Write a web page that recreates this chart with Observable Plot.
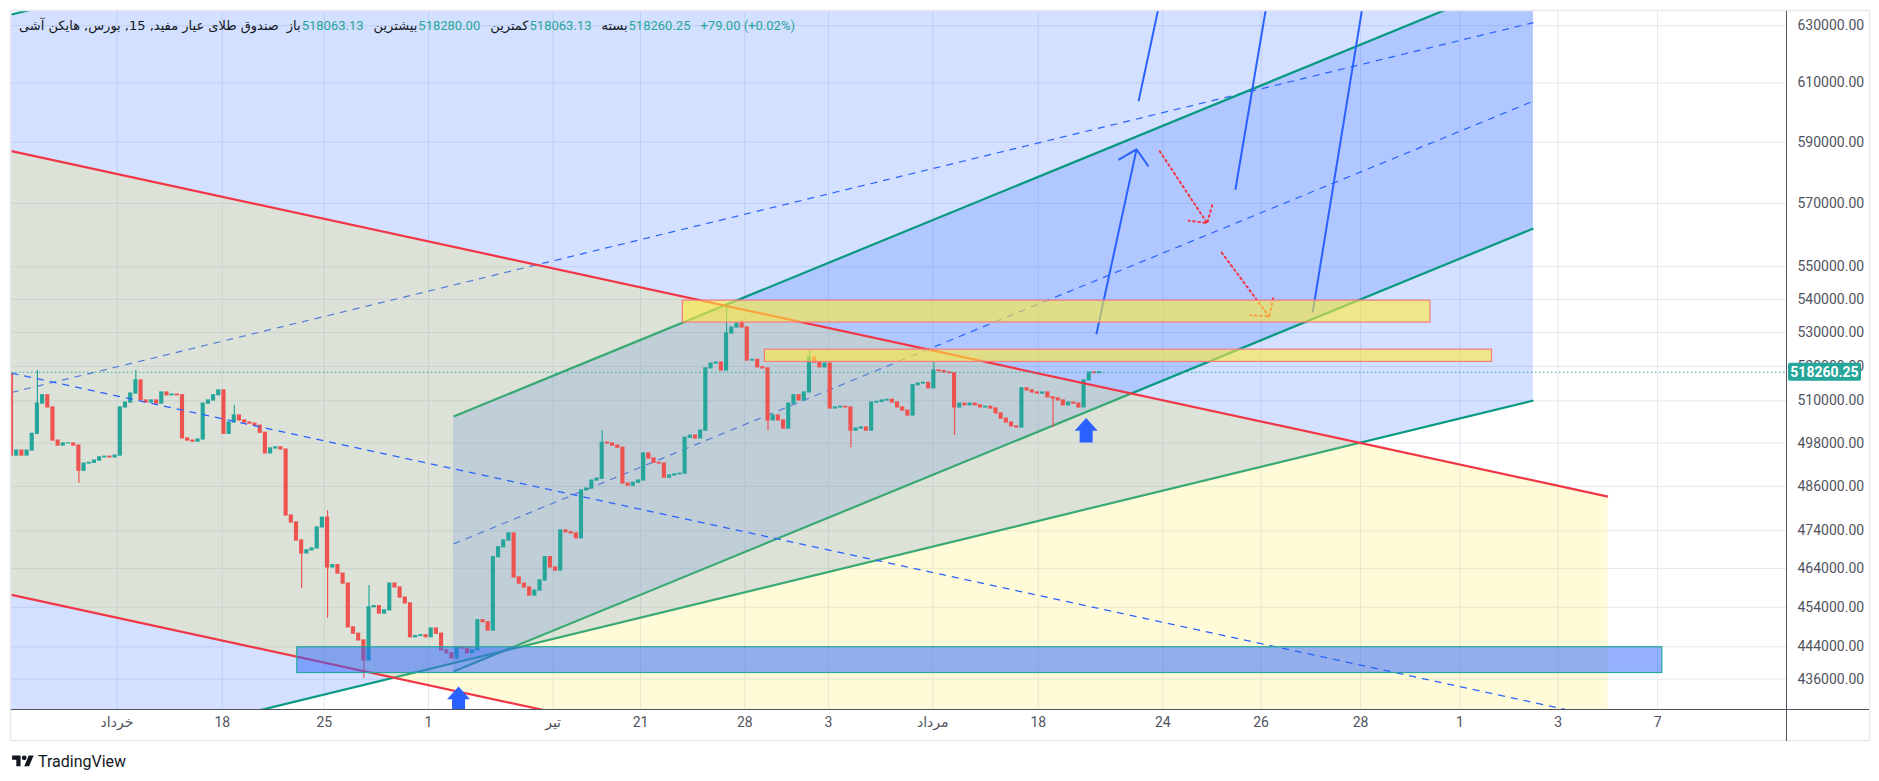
<!DOCTYPE html>
<html><head><meta charset="utf-8">
<script src="https://cdn.jsdelivr.net/npm/d3@7"></script>
<script src="https://cdn.jsdelivr.net/npm/@observablehq/plot@0.6"></script>
<style>
body{margin:0;background:#fff;}
#wrap{position:relative;width:1879px;height:781px;overflow:hidden;background:#fff;font-family:Roboto,"DejaVu Sans",sans-serif;}
#legend{position:absolute;left:19px;top:18px;display:flex;align-items:center;font-size:13px;line-height:16px;color:#131722;white-space:nowrap;}
#legend span{unicode-bidi:isolate;}
#legend .title{font-family:"DejaVu Sans",sans-serif;font-size:13px;margin-right:8px;}
#legend .lab{font-family:"DejaVu Sans",sans-serif;margin-right:1px;}
#legend .val{color:#26a69a;margin-right:10px;}
#logo{position:absolute;left:12px;top:752px;display:flex;align-items:center;font-family:Roboto,sans-serif;font-weight:400;font-size:16px;color:#131722;}
</style></head>
<body><div id="wrap"><div id="chart"></div><div id="legend"></div><div id="logo"></div></div>
<script>
// ---- price axis ticks (log scale) ----
const yTicks = [630000, 610000, 590000, 570000, 550000, 540000, 530000, 520000, 510000, 498000, 486000, 474000, 464000, 454000, 444000, 436000];
// ---- time axis (trading-day units) ----
const xTickPos = [5.09, 10.17, 15.09, 20.12, 26.13, 30.35, 35.38, 39.42, 44.45, 49.54, 55.55, 60.29, 65.09, 69.88, 74.62, 79.42];
const xTickLabels = ["خرداد","18","25","1","تیر","21","28","3","مرداد","18","24","26","28","1","3","7"];
// ---- Heikin Ashi candles (closes), 4 per trading day ----
const candleStep = 0.25;
const firstOpen = 517900;
const closes = [
494500,495900,494500,495900,500600,509200,511600,508100,498700,497300,
497900,497900,497300,490300,492300,492500,493100,494000,494200,494000,
494500,508100,509500,512100,515900,510100,509500,510100,509200,512400,
511600,511800,511600,499300,498700,498400,499000,509200,510100,511600,
513000,500600,503800,505800,504400,503800,503500,502900,500900,495100,
496500,496800,496200,478100,476200,471400,468000,468800,469300,474900,
477500,464300,464900,462700,460100,448900,447300,445600,440600,454000,
454300,452400,453200,460100,459100,456500,455000,446400,446700,446900,
446400,448600,447300,443100,442400,441100,443900,443600,442400,443100,
450700,450200,448100,467000,469600,471400,473300,461700,460100,459100,
457000,458300,460900,467000,464300,463500,474100,473600,473300,472000,
484900,485400,487600,488100,498100,497900,497300,496700,486800,486200,
487000,487600,495100,493700,492500,492300,488400,489000,489300,489500,
499500,500100,499300,501500,519400,520800,521100,518800,529700,531500,
532700,531500,521700,521900,519700,519400,504400,505800,504400,502100,
509200,511600,510100,512400,522600,521100,519700,520800,507800,508100,
508300,508100,501500,502100,502400,501500,509500,509700,510100,510300,
509500,508100,507200,505800,514500,515000,515200,513600,518800,518600,
518200,518000,508100,509200,508700,509200,508700,508100,508300,507800,
506400,504900,503800,502700,502400,513600,513000,512400,512100,512400,
511000,510700,510100,508700,509500,509200,508100,515900,518200,518000,
518260.25];
const wickIdx   = [5, 13, 24, 43, 56, 61, 61, 68, 69, 114, 138, 141, 146, 154, 162, 178, 182, 201];
const wickPrice = [518800, 486800, 518800, 508700, 458800, 479400, 451200, 436200, 459600, 501500, 538800, 533900, 501500, 524700, 496700, 521100, 500100, 502400];
// ---- parallel channels: [start, end] day positions and prices ----
const bigChannelX = [0, 73.43];
const bigChannelLower = [414100, 510100];
const bigChannelMiddle = [512400, 631100];
const bigChannelUpper = [634000, 781000];
const tealChannelX = [21.33, 73.43];
const tealChannelLower = [437900, 562000];
const tealChannelMiddle = [470500, 603800];
const tealChannelUpper = [505500, 648700];
const redChannelX = [0, 77.03];
const redChannelLower = [457200, 376300];
const redChannelMiddle = [518000, 426400];
const redChannelUpper = [587000, 483200];
// ---- zones (rectangles) ----
const zoneStart = [13.79, 32.39, 36.35];
const zoneEnd   = [79.65, 68.46, 71.43];
const zoneLow   = [437500, 533000, 521300];
const zoneHigh  = [443900, 539600, 524900];
const zoneKind  = ["blue", "yellow", "yellow"];
// ---- blue projection lines (first one has an arrowhead) ----
const pathX1 = [52.35, 54.38, 59.05, 62.78];
const pathY1 = [529700, 603800, 574400, 536100];
const pathX2 = [54.28, 55.52, 60.67, 65.31];
const pathY2 = [587600, 642600, 642600, 642600];
// ---- red dotted arrows ----
const redArrowX1 = [55.40, 58.39];
const redArrowY1 = [587000, 554400];
const redArrowX2 = [57.69, 60.68];
const redArrowY2 = [563700, 534800];
// ---- up-arrow markers ----
const markerX = [21.57, 51.85];
const markerY = [434200, 505100];
// ---- legend ----
const legendTitle = "صندوق طلای عیار مفید, 15, بورس, هایکن آشی";
const legendLabels = ["باز", "بیشترین", "کمترین", "بسته"];
const legendValues = ["518063.13", "518280.00", "518063.13", "518260.25"];
const legendChange = "+79.00 (+0.02%)";

const UP = "#26a69a", DOWN = "#ef5350", TEAL = "#089981", RED = "#f23645", BLUE = "#2962ff";

const candles = closes.map((c, i) => {
  const o = i ? closes[i - 1] : firstOpen;
  let hi = Math.max(o, c), lo = Math.min(o, c);
  wickIdx.forEach((w, k) => { if (w === i) { hi = Math.max(hi, wickPrice[k]); lo = Math.min(lo, wickPrice[k]); } });
  return {d: i * candleStep, o, c, hi, lo, col: c >= o ? UP : DOWN};
});
const seg = (X, Y) => [{x1: X[0], x2: X[1], y1: Y[0], y2: Y[1]}];
const band = (X, lo, hi) => [0, 1].map(i => ({x: X[i], lo: lo[i], hi: hi[i]}));
const zones = zoneStart.map((s, i) => ({x1: s, x2: zoneEnd[i], lo: zoneLow[i], hi: zoneHigh[i], kind: zoneKind[i]}));
const paths = pathX1.map((x, i) => ({x1: x, y1: pathY1[i], x2: pathX2[i], y2: pathY2[i]}));
const redArrows = redArrowX1.map((x, i) => ({x1: x, y1: redArrowY1[i], x2: redArrowX2[i], y2: redArrowY2[i]}));
const markers = markerX.map((x, i) => ({x, y: markerY[i]}));
const xTicks = xTickPos.map((x, i) => ({x, label: xTickLabels[i], month: isNaN(+xTickLabels[i])}));
const lastPrice = closes[closes.length - 1];

const upArrow = {draw(ctx) {
  ctx.moveTo(0, 0); ctx.lineTo(11.5, 12.7); ctx.lineTo(6.5, 12.7); ctx.lineTo(6.5, 24.5);
  ctx.lineTo(-6.5, 24.5); ctx.lineTo(-6.5, 12.7); ctx.lineTo(-11.5, 12.7); ctx.closePath();
}};
const lineOpts = (stroke, extra) => Object.assign({x1: "x1", x2: "x2", y1: "y1", y2: "y2", stroke, strokeWidth: 2.2, clip: true}, extra || {});

const chart = Plot.plot({
  width: 1879, height: 742,
  marginLeft: 11, marginRight: 93, marginTop: 11, marginBottom: 33,
  x: {domain: [0, 85.64], axis: null},
  y: {type: "log", domain: [428600, 635060], axis: null},
  style: {fontFamily: "Roboto, 'DejaVu Sans', sans-serif", background: "transparent", overflow: "visible"},
  marks: [
    Plot.ruleY(yTicks, {stroke: "#e3e8f0", strokeWidth: 1}),
    Plot.ruleX(xTickPos, {stroke: "#e3e8f0", strokeWidth: 1}),
    // channel fills
    Plot.areaY(band(bigChannelX, bigChannelLower, bigChannelUpper), {x: "x", y1: "lo", y2: "hi", fill: "rgb(41,98,255)", fillOpacity: 0.2, curve: "linear", clip: true}),
    Plot.areaY(band(tealChannelX, tealChannelLower, tealChannelUpper), {x: "x", y1: "lo", y2: "hi", fill: "rgb(41,98,255)", fillOpacity: 0.2, curve: "linear", clip: true}),
    // channel lines (teal) under the red channel's tint
    Plot.link(seg(bigChannelX, bigChannelLower), lineOpts(TEAL)),
    Plot.link(seg(bigChannelX, bigChannelUpper), lineOpts(TEAL)),
    Plot.link(seg(bigChannelX, bigChannelMiddle), lineOpts(BLUE, {strokeWidth: 1.2, strokeDasharray: "7,6"})),
    Plot.link(seg(tealChannelX, tealChannelLower), lineOpts(TEAL)),
    Plot.link(seg(tealChannelX, tealChannelUpper), lineOpts(TEAL)),
    Plot.link(seg(tealChannelX, tealChannelMiddle), lineOpts(BLUE, {strokeWidth: 1.2, strokeDasharray: "7,6"})),
    // red channel
    Plot.areaY(band(redChannelX, redChannelLower, redChannelUpper), {x: "x", y1: "lo", y2: "hi", fill: "rgb(255,235,59)", fillOpacity: 0.2, curve: "linear", clip: true}),
    // candles
    Plot.ruleX(candles, {x: "d", y1: "lo", y2: "hi", stroke: "col", strokeWidth: 1.2, clip: true}),
    Plot.rect(candles, {x1: d => d.d - 0.1, x2: d => d.d + 0.1, y1: "o", y2: "c", fill: "col", insetTop: -0.6, insetBottom: -0.6, clip: true}),
    Plot.link(seg(redChannelX, redChannelUpper), lineOpts(RED)),
    Plot.link(seg(redChannelX, redChannelLower), lineOpts(RED)),
    Plot.link(seg(redChannelX, redChannelMiddle), lineOpts(BLUE, {strokeWidth: 1.2, strokeDasharray: "7,6"})),
    // projections
    Plot.arrow(paths.slice(0, 1), {x1: "x1", y1: "y1", x2: "x2", y2: "y2", stroke: BLUE, strokeWidth: 2, headLength: 15, headAngle: 95}),
    Plot.link(paths.slice(1), lineOpts(BLUE, {strokeWidth: 2})),
    Plot.arrow(redArrows, {x1: "x1", y1: "y1", x2: "x2", y2: "y2", stroke: RED, strokeWidth: 2, strokeDasharray: "1.8,3.4", headLength: 14, headAngle: 98}),
    // zones
    Plot.rect(zones.filter(z => z.kind === "blue"), {x1: "x1", x2: "x2", y1: "lo", y2: "hi", fill: "rgb(41,98,255)", fillOpacity: 0.5, stroke: "#26a69a", strokeWidth: 1.2}),
    Plot.rect(zones.filter(z => z.kind === "yellow"), {x1: "x1", x2: "x2", y1: "lo", y2: "hi", fill: "rgb(255,235,59)", fillOpacity: 0.6, stroke: "#f77c80", strokeWidth: 1.2}),
    // markers
    Plot.dot(markers, {x: "x", y: "y", symbol: upArrow, fill: BLUE, stroke: "none", r: 10, clip: true}),
    // last price line
    Plot.ruleY([lastPrice], {stroke: UP, strokeWidth: 1, strokeDasharray: "1.5,2.5"}),
    // axes labels
    Plot.text(yTicks, {y: d => d, text: d => d.toFixed(2), frameAnchor: "right", dx: 11, textAnchor: "start", fill: "#50535e", fontSize: 14}),
    Plot.text(xTicks.filter(t => !t.month), {x: "x", text: "label", frameAnchor: "bottom", dy: 17, fill: "#50535e", fontSize: 14}),
    Plot.text(xTicks.filter(t => t.month), {x: "x", text: "label", frameAnchor: "bottom", dy: 17, fill: "#50535e", fontSize: 14, fontFamily: "DejaVu Sans"})
  ]
});
document.getElementById("chart").appendChild(chart);

// axis frame lines, container border and last-price label (using the plot's own y scale)
const svg = d3.select(chart);
const ys = chart.scale("y");
const yLast = ys.apply(lastPrice);
svg.append("rect").attr("x", 10.5).attr("y", 10.5).attr("width", 1859).attr("height", 730).attr("fill", "none").attr("stroke", "#e6e8ee").attr("stroke-width", 1.5);
svg.append("line").attr("x1", 1786.5).attr("x2", 1786.5).attr("y1", 11).attr("y2", 741).attr("stroke", "#50535e");
svg.append("line").attr("x1", 11).attr("x2", 1869).attr("y1", 709.5).attr("y2", 709.5).attr("stroke", "#50535e");
svg.append("rect").attr("x", 1788).attr("y", yLast - 9).attr("width", 73).attr("height", 18).attr("rx", 2).attr("fill", UP);
svg.append("text").attr("x", 1824.5).attr("y", yLast).attr("dy", "0.35em").attr("text-anchor", "middle")
  .attr("fill", "#fff").attr("font-size", 14).attr("font-weight", "bold").attr("font-family", "Roboto, sans-serif")
  .text(lastPrice.toFixed(2));

// legend
const lg = document.getElementById("legend");
const mk = (cls, txt, dir) => { const s = document.createElement("span"); s.className = cls; s.textContent = txt; if (dir) s.dir = dir; lg.appendChild(s); };
mk("title", legendTitle, "rtl");
legendLabels.forEach((l, i) => { mk("lab", l, "rtl"); mk("val", legendValues[i]); });
mk("val", legendChange);

// logo
document.getElementById("logo").innerHTML =
  '<svg width="22" height="17" viewBox="0 0 36 28" style="margin-right:4px"><path d="M14 22H7V11H0V4h14v18z" fill="#131722"/><circle cx="20" cy="8" r="4" fill="#131722"/><path d="M28 22h-8l7.5-18h8L28 22z" fill="#131722"/></svg>TradingView';
</script>
</body></html>
